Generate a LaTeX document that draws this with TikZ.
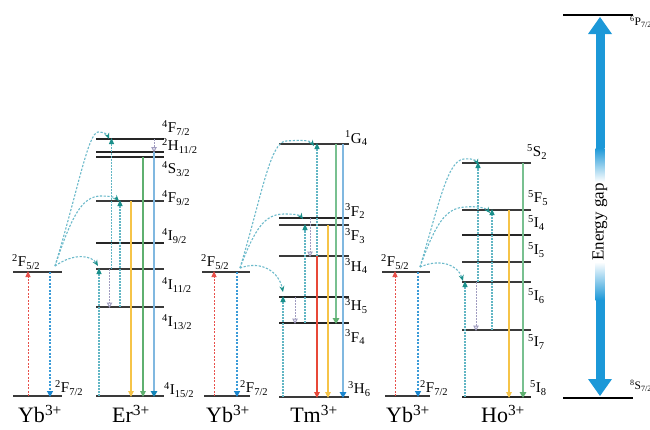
\documentclass[tikz,border=0pt]{standalone}
\usepackage{fontspec}
\setmainfont{Liberation Serif}
\usetikzlibrary{arrows.meta,calc}
\definecolor{levc}{HTML}{3A3A3A}
\definecolor{tealh}{HTML}{1A8F8A}
\definecolor{teald}{HTML}{62B6C4}
\definecolor{curvec}{HTML}{6CBACB}
\definecolor{redd}{HTML}{E8504A}
\definecolor{blued}{HTML}{3B9BD8}
\definecolor{blueh}{HTML}{1A86CF}
\definecolor{grayd}{HTML}{A09CC0}
\definecolor{yel}{HTML}{F6C448}
\definecolor{grn}{HTML}{5FB070}
\definecolor{grnl}{HTML}{78C090}
\definecolor{blus}{HTML}{80B8E0}
\definecolor{reds}{HTML}{E84838}
\definecolor{gapc}{HTML}{1C98D8}
\newcommand\lev[5][]{\draw[levline,#1] (#3,#5) coordinate (#2) -- (#4,#5) coordinate (#2r);}
\newcommand\vx[2]{\coordinate (#1) at (#2,0);}
\begin{document}
\begin{tikzpicture}[x=1pt,y=-1pt,
  levline/.style={draw=levc,line width=1.3pt},
  thk/.style={line width=2.3pt,draw=black!85},
  lab/.style={anchor=west,inner sep=0pt,font=\fontsize{15}{15}\selectfont},
  ion/.style={inner sep=0pt,font=\fontsize{22}{22}\selectfont},
  upar/.style={draw=teald,line width=1.2pt,dash pattern=on 1.6pt off 1.4pt,-{Triangle[length=6pt,width=5pt,color=tealh]}},
  nrar/.style={draw=grayd,line width=1pt,dash pattern=on 1.6pt off 1.4pt,-{Triangle[open,length=5.5pt,width=5.5pt,color=grayd]}},
  exc/.style={draw=redd,line width=1pt,dash pattern=on 2pt off 1.5pt,-{Triangle[length=6pt,width=5pt]}},
  dec/.style={draw=blued,line width=1.1pt,dash pattern=on 2pt off 1.5pt,-{Triangle[length=6pt,width=6pt,color=blueh]}},
  et/.style={draw=curvec,line width=1.1pt,dash pattern=on 2.2pt off 1.6pt,-{Stealth[length=6pt,width=5pt,color=tealh]}},
  em/.style={line width=1.2pt,-{Triangle[length=6pt,width=5.5pt]}}]
\useasboundingbox (0,0) rectangle (650,429);
\fill[white] (0,0) rectangle (650,429);

% ---------------- Yb / Er ----------------
\lev{Ya0}{13}{62}{396}
\lev{Ya1}{13}{62}{272}
\node[lab] (lYa1) at (12,262) {\textsuperscript{2}F\textsubscript{5/2}};
\node[lab] (lYa0) at (55,388) {\textsuperscript{2}F\textsubscript{7/2}};
\node[ion] (iYa) at (40,414) {Yb\textsuperscript{3+}};

\lev{E0}{96}{164}{396}
\lev{E1}{96}{164}{307}
\lev{E2}{96}{164}{269}
\lev[thk]{E3}{96}{164}{243}
\lev{E4}{96}{164}{201}
\lev[thk]{E5}{96}{164}{157}
\lev[thk]{E6}{96}{164}{152}
\lev[thk]{E7}{96}{164}{139}
\node[lab] at (162,128) {\textsuperscript{4}F\textsubscript{7/2}};
\node[lab] at (162,146) {\textsuperscript{2}H\textsubscript{11/2}};
\node[lab] at (162,169) {\textsuperscript{4}S\textsubscript{3/2}};
\node[lab] at (162,198) {\textsuperscript{4}F\textsubscript{9/2}};
\node[lab] at (162,236) {\textsuperscript{4}I\textsubscript{9/2}};
\node[lab] at (162,285) {\textsuperscript{4}I\textsubscript{11/2}};
\node[lab] at (162,322) {\textsuperscript{4}I\textsubscript{13/2}};
\node[lab] at (164,390) {\textsuperscript{4}I\textsubscript{15/2}};
\node[ion] (iE) at (131,414) {Er\textsuperscript{3+}};

\vx{ya}{28}\vx{yb}{50}
\draw[exc] (ya|-Ya0) -- ([yshift=1pt]ya|-Ya1);
\draw[dec] (yb|-Ya1) -- ([yshift=-1pt]yb|-Ya0);
\coordinate (sA) at (55,266);
\draw[et] (sA) .. controls (75,252) and (92,256) .. (98,266);
\draw[et] (sA) .. controls (72,215) and (82,197) .. (100,196) .. controls (110,196) and (115,197) .. (119,201);
\draw[et] (sA) .. controls (78,190) and (88,133) .. (98,132) .. controls (104,132) and (107,134) .. (109,139);
\vx{ea}{99}\vx{eb}{111.5}\vx{ec}{120}\vx{ed}{131}\vx{ee}{143}\vx{ef}{154}\vx{eg}{109.5}
\draw[upar] (ea|-E0) -- ([yshift=1pt]ea|-E2);
\draw[upar] (eb|-E2) -- ([yshift=1pt]eb|-E7);
\draw[nrar] (eg|-E2) -- ([yshift=-1pt]eg|-E1);
\draw[upar] (ec|-E1) -- ([yshift=1pt]ec|-E4);
\draw[em,draw=yel,fill=yel] (ed|-E4) -- ([yshift=-1pt]ed|-E0);
\draw[em,draw=grn,fill=grn] (ee|-E5) -- ([yshift=-1pt]ee|-E0);
\draw[em,draw=blus,line width=2.2pt,-{Triangle[length=6pt,width=6.5pt,color=blueh!70!teal]}] (ef|-E6) -- ([yshift=-1pt]ef|-E0);
\draw[nrar] (ef|-E7) -- ([yshift=-0.5pt]ef|-E6);

% ---------------- Yb / Tm ----------------
\lev{Yb0}{204}{250}{396}
\lev{Yb1}{202}{250}{272}
\node[lab] at (201,262) {\textsuperscript{2}F\textsubscript{5/2}};
\node[lab] at (240,388) {\textsuperscript{2}F\textsubscript{7/2}};
\node[ion] (iYb) at (228,414) {Yb\textsuperscript{3+}};

\lev[line width=1.6pt]{T0}{279}{349}{397}
\lev[thk]{T1}{279}{349}{323}
\lev[thk]{T2}{279}{349}{297}
\lev{T3}{279}{349}{256}
\lev[line width=1.6pt]{T4}{279}{349}{225}
\lev[thk]{T5}{279}{349}{218}
\lev{T6}{279}{349}{144}
\node[lab] at (345,138) {\textsuperscript{1}G\textsubscript{4}};
\node[lab] at (345,211) {\textsuperscript{3}F\textsubscript{2}};
\node[lab] at (345,236) {\textsuperscript{3}F\textsubscript{3}};
\node[lab] at (345,266) {\textsuperscript{3}H\textsubscript{4}};
\node[lab] at (345,306) {\textsuperscript{3}H\textsubscript{5}};
\node[lab] at (345,337) {\textsuperscript{3}F\textsubscript{4}};
\node[lab] at (348,389) {\textsuperscript{3}H\textsubscript{6}};
\node[ion] (iT) at (314,414) {Tm\textsuperscript{3+}};

\vx{ta}{214}\vx{tb}{237}
\draw[exc] (ta|-Yb0) -- ([yshift=1pt]ta|-Yb1);
\draw[dec] (tb|-Yb1) -- ([yshift=-1pt]tb|-Yb0);
\coordinate (sB) at (240,268);
\draw[et] (sB) .. controls (262,260) and (279,272) .. (283,292);
\draw[et] (sB) .. controls (255,228) and (265,214) .. (284,214) .. controls (295,214) and (300,215) .. (303,219);
\draw[et] (sB) .. controls (262,195) and (270,142) .. (286,141) .. controls (300,140) and (310,140) .. (314,146);
\vx{tc}{283}\vx{td}{295}\vx{te}{305}\vx{tf}{310}\vx{tg}{317}\vx{th}{328}\vx{ti}{336}\vx{tj}{343}
\draw[upar] (tc|-T0) -- ([yshift=1pt]tc|-T2);
\draw[nrar] (td|-T2) -- ([yshift=-1pt]td|-T1);
\draw[upar] (te|-T1) -- ([yshift=1pt]te|-T4);
\draw[nrar] (tf|-T5) -- ([yshift=-1pt]tf|-T3);
\draw[upar] (tg|-T3) -- ([yshift=1pt]tg|-T6);
\draw[em,draw=reds,fill=reds] (tg|-T3) -- ([yshift=-1pt]tg|-T0);
\draw[em,draw=yel,fill=yel] (th|-T4) -- ([yshift=-1pt]th|-T0);
\draw[em,draw=grnl,line width=2pt,-{Triangle[length=6pt,width=6.5pt,color=grn]}] (ti|-T6) -- ([yshift=-1pt]ti|-T1);
\draw[em,draw=blus,line width=1.8pt,-{Triangle[length=6pt,width=6.5pt,color=blueh]}] (tj|-T6) -- ([yshift=-1pt]tj|-T0);

% ---------------- Yb / Ho ----------------
\lev{Yc0}{385}{430}{396}
\lev{Yc1}{382}{430}{272}
\node[lab] at (381,262) {\textsuperscript{2}F\textsubscript{5/2}};
\node[lab] at (420,388) {\textsuperscript{2}F\textsubscript{7/2}};
\node[ion] (iYc) at (408,414) {Yb\textsuperscript{3+}};

\lev[thk]{H0}{462}{531}{397}
\lev{H1}{462}{531}{330}
\lev{H2}{462}{531}{282}
\lev[line width=1.6pt]{H3}{462}{531}{262}
\lev[thk]{H4}{462}{531}{235}
\lev{H5}{462}{531}{210}
\lev{H6}{462}{531}{163}
\node[lab] at (527,152) {\textsuperscript{5}S\textsubscript{2}};
\node[lab] at (528,198) {\textsuperscript{5}F\textsubscript{5}};
\node[lab] at (528,223) {\textsuperscript{5}I\textsubscript{4}};
\node[lab] at (528,250) {\textsuperscript{5}I\textsubscript{5}};
\node[lab] at (528,296) {\textsuperscript{5}I\textsubscript{6}};
\node[lab] at (528,342) {\textsuperscript{5}I\textsubscript{7}};
\node[lab] at (530,388) {\textsuperscript{5}I\textsubscript{8}};
\node[ion] (iH) at (503,414) {Ho\textsuperscript{3+}};

\vx{ha}{395}\vx{hb}{418}
\draw[exc] (ha|-Yc0) -- ([yshift=1pt]ha|-Yc1);
\draw[dec] (hb|-Yc1) -- ([yshift=-1pt]hb|-Yc0);
\coordinate (sC) at (420,267);
\draw[et] (sC) .. controls (440,258) and (458,265) .. (463,281);
\draw[et] (sC) .. controls (435,225) and (445,208) .. (465,207) .. controls (478,206) and (486,208) .. (490,213);
\draw[et] (sC) .. controls (440,200) and (448,160) .. (464,159) .. controls (471,158) and (476,160) .. (478,165);
\vx{hc}{465}\vx{hd}{478}\vx{he}{492}\vx{hf}{509}\vx{hg}{523}\vx{hh}{476}
\draw[upar] (hc|-H0) -- ([yshift=1pt]hc|-H2);
\draw[upar] (hd|-H2) -- ([yshift=1pt]hd|-H6);
\draw[nrar] (hh|-H2) -- ([yshift=-1pt]hh|-H1);
\draw[upar] (he|-H1) -- ([yshift=1pt]he|-H5);
\draw[em,draw=yel,fill=yel] (hf|-H5) -- ([yshift=-1pt]hf|-H0);
\draw[em,draw=grnl,line width=2.2pt,-{Triangle[length=6pt,width=6.5pt,color=grn]}] (hg|-H6) -- ([yshift=-1pt]hg|-H0);

% ---------------- Gd energy gap ----------------
\lev[line width=1.8pt,draw=black]{G0}{563}{633}{398}
\lev[line width=1.8pt,draw=black]{G1}{563}{633}{15}
\node[anchor=west,inner sep=0pt,font=\fontsize{11.5}{11.5}\selectfont] at (630,22) {\textsuperscript{6}P\textsubscript{7/2}};
\node[anchor=west,inner sep=0pt,font=\fontsize{11.5}{11.5}\selectfont] at (630,386) {\textsuperscript{8}S\textsubscript{7/2}};
\fill[gapc] (600,17) -- (612,34) -- (588,34) -- cycle;
\fill[gapc] (600,396) -- (612,379) -- (588,379) -- cycle;
\fill[gapc] (595.5,33) rectangle (604.5,148);
\shade[top color=gapc,bottom color=white] (595.5,148) rectangle (604.5,182);
\shade[top color=white,bottom color=gapc] (595.5,262) rectangle (604.5,300);
\fill[gapc] (595.5,300) rectangle (604.5,380);
\node[rotate=90,inner sep=0pt,font=\fontsize{17}{17}\selectfont] (gap) at (600,222) {Energy gap};
\end{tikzpicture}
\end{document}
